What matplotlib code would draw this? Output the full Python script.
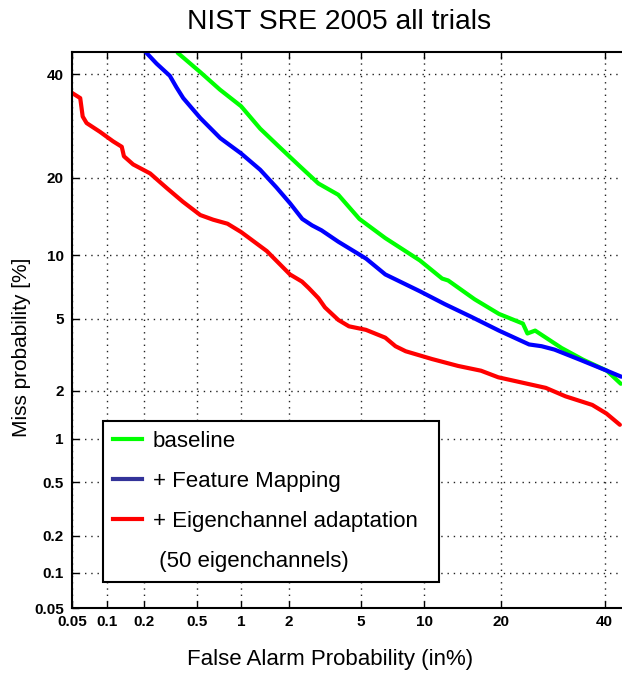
import math
from statistics import NormalDist

import numpy as np
import matplotlib
matplotlib.use("Agg")
import matplotlib.pyplot as plt
from matplotlib.lines import Line2D
from matplotlib.ticker import FixedLocator, FixedFormatter

plt.rcParams['font.family'] = ['Liberation Sans', 'DejaVu Sans']

# DET curves, values in %
baseline_fa = [0.355, 0.36, 0.525, 0.72, 1.0, 1.33, 1.76, 2.3, 2.97, 3.82, 4.93, 6.63, 9.57,
               11.9, 12.6, 16.0, 19.6, 23.6, 24.4, 25.8, 30.9, 35.3, 40.5, 43.6]
baseline_miss = [46, 44.8, 40.5, 36.7, 33.2, 28.7, 25.2, 22.0, 19.1, 17.4, 14.1, 11.8, 9.47,
                 7.85, 7.69, 6.26, 5.3, 4.73, 4.2, 4.35, 3.51, 3.03, 2.62, 2.2]

feature_fa = [0.19, 0.249, 0.314, 0.352, 0.395, 0.525, 0.724, 1.0, 1.33, 1.68, 2.03, 2.4, 2.73,
              3.09, 3.82, 5.33, 6.63, 9.57, 12.2, 15.5, 19.6, 24.7, 27.0, 29.5, 34.6, 40.5, 43.7]
feature_miss = [46, 42.4, 39.7, 37.2, 34.9, 30.8, 26.9, 24.1, 21.3, 18.5, 16.2, 14.1, 13.3,
                12.7, 11.4, 9.65, 8.2, 6.84, 5.93, 5.13, 4.35, 3.67, 3.59, 3.44, 3.03, 2.62, 2.42]

eigen_fa = [0.05, 0.059, 0.062, 0.067, 0.087, 0.112, 0.132, 0.1375, 0.163, 0.222, 0.298, 0.393,
            0.525, 0.647, 0.811, 1.0, 1.465, 2.03, 2.39, 2.61, 2.97, 3.23, 3.82, 4.35, 5.32,
            6.63, 7.41, 8.26, 10.8, 13.8, 16.9, 19.5, 27.8, 31.7, 37.3, 40.4, 43.4]
eigen_miss = [36, 34.9, 31.1, 29.8, 28.1, 26.3, 25.3, 23.6, 22.2, 20.7, 18.4, 16.4,
              14.6, 14.0, 13.5, 12.5, 10.4, 8.2, 7.6, 7.1, 6.34, 5.71, 4.94, 4.58, 4.39,
              3.99, 3.59, 3.37, 3.05, 2.79, 2.62, 2.40, 2.08, 1.85, 1.64, 1.45, 1.23]

tick_vals = [0.05, 0.1, 0.2, 0.5, 1, 2, 5, 10, 20, 40]
tick_labels = ['0.05', '0.1', '0.2', '0.5', '1', '2', '5', '10', '20', '40']

labels = ['baseline', '+ Feature Mapping', '+ Eigenchannel adaptation', ' (50 eigenchannels)']

_nd = NormalDist()


def probit(p):
    p = np.clip(np.asarray(p, dtype=float) / 100.0, 1e-9, 1 - 1e-9)
    return np.vectorize(_nd.inv_cdf)(p) if p.size else p


def inv_probit(z):
    z = np.asarray(z, dtype=float)
    return 100.0 * 0.5 * (1 + np.vectorize(math.erf)(z / math.sqrt(2))) if z.size else z


fig = plt.figure(figsize=(6.22, 6.73), dpi=100)
ax = fig.add_axes([72 / 622, 65 / 673, 555 / 622, 556 / 673])

ax.set_xscale('function', functions=(probit, inv_probit))
ax.set_yscale('function', functions=(probit, inv_probit))

ax.plot(baseline_fa, baseline_miss, color='#00ff00', lw=3, solid_capstyle='round')
ax.plot(feature_fa, feature_miss, color='#0000ff', lw=3, solid_capstyle='round')
ax.plot(eigen_fa, eigen_miss, color='#ff0000', lw=3, solid_capstyle='round')

ax.set_xlim(0.05, 45)
ax.set_ylim(0.05, 45)

for axis in (ax.xaxis, ax.yaxis):
    axis.set_major_locator(FixedLocator(tick_vals))
    axis.set_major_formatter(FixedFormatter(tick_labels))
    axis.set_minor_locator(FixedLocator([]))

ax.tick_params(axis='both', direction='in', length=5, width=1, top=True, right=False,
               labelsize=11)
ax.tick_params(axis='x', pad=5)
ax.tick_params(axis='y', pad=6)
for lab in ax.get_xticklabels() + ax.get_yticklabels():
    lab.set_fontweight('bold')

ax.grid(True, color='#222222', linestyle=(0, (1, 3.5)), linewidth=1.0)

for side in ['left', 'bottom', 'top']:
    ax.spines[side].set_linewidth(1.5)
ax.spines['right'].set_visible(False)

handles = [Line2D([], [], color='#00ff00', lw=3),
           Line2D([], [], color='#333399', lw=3),
           Line2D([], [], color='#ff0000', lw=3),
           Line2D([], [], color='none', lw=3)]
x0 = (103 - 72) / 555
y0 = (608 - 581) / 556
w = (439 - 103) / 555
h = (581 - 421) / 556
leg = ax.legend(handles, labels, loc='upper left', bbox_to_anchor=(x0, y0, w, h),
                mode='expand', borderaxespad=0, fontsize=16, fancybox=False,
                framealpha=1, edgecolor='black', handlelength=1.3, handletextpad=0.5,
                labelspacing=0.85, borderpad=0.45)
leg.get_frame().set_linewidth(1.5)

fig.text(339 / 622, 1 - 22 / 673, 'NIST SRE 2005 all trials', fontsize=20.3,
         ha='center', va='center')
fig.text(330 / 622, 1 - 660 / 673, 'False Alarm Probability (in%)', fontsize=16,
         ha='center', va='center')
fig.text(22 / 622, 1 - 347 / 673, 'Miss probability [%]', fontsize=15, rotation=90,
         ha='center', va='center')

fig.savefig('out.png', dpi=100)
